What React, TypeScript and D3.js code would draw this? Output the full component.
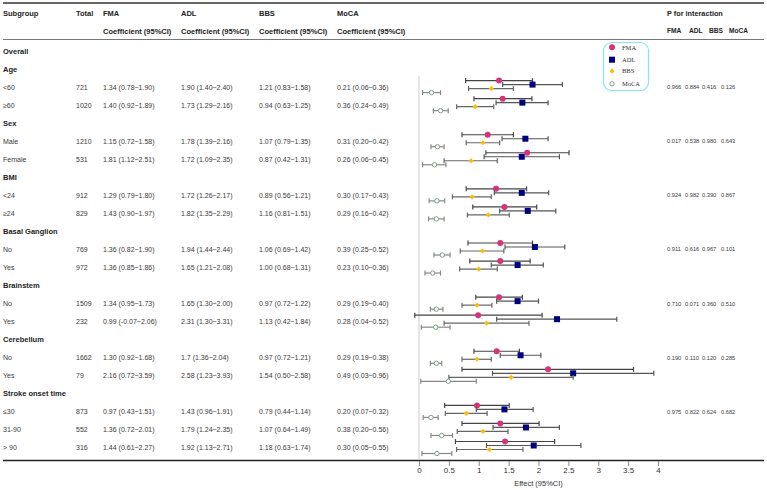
import { useEffect, useRef } from 'react';
import * as d3 from 'd3';

const groupLabels = ['Age', 'Sex', 'BMI', 'Basal Ganglion', 'Brainstem', 'Cerebellum', 'Stroke onset time'];
const groupSubgroups = [
  ['<60', '≥60'],
  ['Male', 'Female'],
  ['<24', '≥24'],
  ['No', 'Yes'],
  ['No', 'Yes'],
  ['No', 'Yes'],
  ['≤30', '31-90', '> 90'],
];
const totals = [721, 1020, 1210, 531, 912, 829, 769, 972, 1509, 232, 1662, 79, 873, 552, 316];

const fmaText = [
  '1.34 (0.78~1.90)', '1.40 (0.92~1.89)', '1.15 (0.72~1.58)', '1.81 (1.12~2.51)',
  '1.29 (0.79~1.80)', '1.43 (0.90~1.97)', '1.36 (0.82~1.90)', '1.36 (0.85~1.86)',
  '1.34 (0.95~1.73)', '0.99 (-0.07~2.06)', '1.30 (0.92~1.68)', '2.16 (0.72~3.59)',
  '0.97 (0.43~1.51)', '1.36 (0.72~2.01)', '1.44 (0.61~2.27)',
];
const adlText = [
  '1.90 (1.40~2.40)', '1.73 (1.29~2.16)', '1.78 (1.39~2.16)', '1.72 (1.09~2.35)',
  '1.72 (1.26~2.17)', '1.82 (1.35~2.29)', '1.94 (1.44~2.44)', '1.65 (1.21~2.08)',
  '1.65 (1.30~2.00)', '2.31 (1.30~3.31)', '1.7 (1.36~2.04)', '2.58 (1.23~3.93)',
  '1.43 (0.96~1.91)', '1.79 (1.24~2.35)', '1.92 (1.13~2.71)',
];
const bbsText = [
  '1.21 (0.83~1.58)', '0.94 (0.63~1.25)', '1.07 (0.79~1.35)', '0.87 (0.42~1.31)',
  '0.89 (0.56~1.21)', '1.16 (0.81~1.51)', '1.06 (0.69~1.42)', '1.00 (0.68~1.31)',
  '0.97 (0.72~1.22)', '1.13 (0.42~1.84)', '0.97 (0.72~1.21)', '1.54 (0.50~2.58)',
  '0.79 (0.44~1.14)', '1.07 (0.64~1.49)', '1.18 (0.63~1.74)',
];
const mocaText = [
  '0.21 (0.06~0.36)', '0.36 (0.24~0.49)', '0.31 (0.20~0.42)', '0.26 (0.06~0.45)',
  '0.30 (0.17~0.43)', '0.29 (0.16~0.42)', '0.39 (0.25~0.52)', '0.23 (0.10~0.36)',
  '0.29 (0.19~0.40)', '0.28 (0.04~0.52)', '0.29 (0.19~0.38)', '0.49 (0.03~0.96)',
  '0.20 (0.07~0.32)', '0.38 (0.20~0.56)', '0.30 (0.05~0.55)',
];

const pFma = ['0.966', '0.017', '0.924', '0.911', '0.710', '0.190', '0.975'];
const pAdl = ['0.884', '0.538', '0.982', '0.616', '0.071', '0.110', '0.822'];
const pBbs = ['0.416', '0.980', '0.390', '0.967', '0.360', '0.120', '0.624'];
const pMoca = ['0.126', '0.643', '0.867', '0.101', '0.510', '0.285', '0.682'];

const axisTicks = [0, 0.5, 1, 1.5, 2, 2.5, 3, 3.5, 4];

const outcomes = ['FMA', 'ADL', 'BBS', 'MoCA'];

const W = 767;
const H = 490;
const SANS = 'Liberation Sans, Arial, sans-serif';

function parseCi(s: string): [number, number, number] {
  const m = s.match(/(-?[\d.]+) \((-?[\d.]+)~(-?[\d.]+)\)/)!;
  return [+m[1], +m[2], +m[3]];
}

export default function App() {
  const ref = useRef<SVGSVGElement>(null);

  useEffect(() => {
    const svg = d3.select(ref.current);
    svg.selectAll('*').remove();

    // rows: Overall, then each group heading followed by its subgroups
    type Row = { label: string; heading: boolean; sub?: number; group?: number };
    const rows: Row[] = [{ label: 'Overall', heading: true }];
    let k = 0;
    groupLabels.forEach((g, gi) => {
      rows.push({ label: g, heading: true, group: gi });
      groupSubgroups[gi].forEach((s) => rows.push({ label: s, heading: false, sub: k++, group: gi }));
    });

    const y = d3.scaleLinear().domain([0, rows.length - 1]).range([51, 448]);
    const x = d3.scaleLinear().domain([0, 4]).range([419, 658]);

    const txt = (xx: number, yy: number, s: string, bold = false, size = 7) =>
      svg
        .append('text')
        .attr('x', xx)
        .attr('y', yy)
        .attr('dy', '0.35em')
        .attr('font-family', SANS)
        .attr('font-size', size)
        .attr('font-weight', bold ? 'bold' : 'normal')
        .attr('fill', bold ? '#222' : '#3a3a3a')
        .text(s);

    // rules
    svg.append('line').attr('x1', 3).attr('x2', 764).attr('y1', 3).attr('y2', 3)
      .attr('stroke', '#333').attr('stroke-width', 1.5);
    svg.append('line').attr('x1', 3).attr('x2', 764).attr('y1', 39.5).attr('y2', 39.5)
      .attr('stroke', '#777').attr('stroke-width', 1.2);
    svg.append('line').attr('x1', 3).attr('x2', 764).attr('y1', 460.5).attr('y2', 460.5)
      .attr('stroke', '#222').attr('stroke-width', 1.5);

    // header
    const colX = [103, 181, 259, 337];
    txt(3, 13, 'Subgroup', true, 7.5);
    txt(76, 13, 'Total', true, 7.5);
    outcomes.forEach((o, i) => {
      txt(colX[i], 13, o, true, 7.5);
      txt(colX[i], 31, 'Coefficient (95%CI)', true, 7.5);
    });
    txt(667, 13, 'P for interaction', true, 7.3);
    [667, 689, 709, 729].forEach((xx, i) => txt(xx, 31, outcomes[i], true, 6.6));

    // table body
    const texts = [fmaText, adlText, bbsText, mocaText];
    const pCols = [pFma, pAdl, pBbs, pMoca];
    const pX = [667, 685, 702, 721];
    rows.forEach((r, i) => {
      const yy = y(i);
      txt(3, yy, r.label, r.heading, r.heading ? 7.5 : 7);
      if (r.sub != null) {
        txt(76, yy, String(totals[r.sub]));
        texts.forEach((t, j) => txt(colX[j], yy, t[r.sub!]));
        if (groupSubgroups[r.group!][0] === r.label && rows[i - 1].heading) {
          pCols.forEach((p, j) => txt(pX[j], yy, p[r.group!], false, 5.7));
        }
      }
    });

    // zero line
    svg.append('line').attr('x1', x(0)).attr('x2', x(0)).attr('y1', 76).attr('y2', 460)
      .attr('stroke', '#ccc').attr('stroke-width', 1);

    // forest marks
    const barColor = ['#444', '#555', '#666', '#888'];
    const offsets = [-6.5, -2.5, 1.5, 5.5];
    const drawMarker = (g: d3.Selection<SVGGElement, unknown, null, undefined>, j: number, cx: number, cy: number) => {
      if (j === 0) {
        g.append('circle').attr('cx', cx).attr('cy', cy).attr('r', 3).attr('fill', '#d6337a');
      } else if (j === 1) {
        g.append('rect').attr('x', cx - 3).attr('y', cy - 3).attr('width', 6).attr('height', 6).attr('fill', '#00007f');
      } else if (j === 2) {
        const s = 2.6;
        g.append('path').attr('d', `M0,${-s}L${s},0L0,${s}L${-s},0Z`).attr('transform', `translate(${cx},${cy})`)
          .attr('fill', '#ffbb00');
      } else {
        g.append('circle').attr('cx', cx).attr('cy', cy).attr('r', 2.2).attr('fill', '#fff')
          .attr('stroke', '#7f9f84').attr('stroke-width', 1);
      }
    };

    const forest = svg.append('g');
    rows.forEach((r, i) => {
      if (r.sub == null) return;
      texts.forEach((t, j) => {
        const [est, lo, hi] = parseCi(t[r.sub!]);
        const cy = y(i) + offsets[j];
        const c = barColor[j];
        forest.append('line').attr('x1', x(lo)).attr('x2', x(hi)).attr('y1', cy).attr('y2', cy)
          .attr('stroke', c).attr('stroke-width', 1.2);
        [lo, hi].forEach((v) =>
          forest.append('line').attr('x1', x(v)).attr('x2', x(v)).attr('y1', cy - 2.5).attr('y2', cy + 2.5)
            .attr('stroke', c).attr('stroke-width', 1.2));
        drawMarker(forest, j, x(est), cy);
      });
    });

    // legend
    const leg = svg.append('g');
    leg.append('rect').attr('x', 603.5).attr('y', 42.5).attr('width', 45).attr('height', 48).attr('rx', 8)
      .attr('fill', '#fff').attr('stroke', '#86e6f4').attr('stroke-width', 1.2);
    [47.3, 59.7, 71.2, 83.8].forEach((ly, j) => {
      drawMarker(leg, j, 612, ly);
      leg.append('text').attr('x', 622).attr('y', ly).attr('dy', '0.35em')
        .attr('font-family', 'Liberation Serif, Times New Roman, serif').attr('font-size', 6.5)
        .attr('fill', '#333').text(outcomes[j]);
    });

    // axis
    const ax = svg.append('g').attr('transform', 'translate(0,461)')
      .call(d3.axisBottom(x).tickValues(axisTicks).tickSize(5).tickFormat((d) => String(d)));
    ax.select('.domain').remove();
    ax.selectAll('line').attr('stroke', '#888');
    ax.selectAll('text').attr('font-family', SANS).attr('font-size', 8).attr('fill', '#333').attr('dy', '0.55em');
    svg.append('text').attr('x', x(2)).attr('y', 483).attr('dy', '0.35em').attr('text-anchor', 'middle')
      .attr('font-family', SANS).attr('font-size', 7.5).attr('fill', '#333').text('Effect (95%CI)');
  }, []);

  return (
    <svg
      ref={ref}
      width={W}
      height={H}
      style={{ position: 'absolute', left: 0, top: 0, background: '#fff' }}
    />
  );
}
